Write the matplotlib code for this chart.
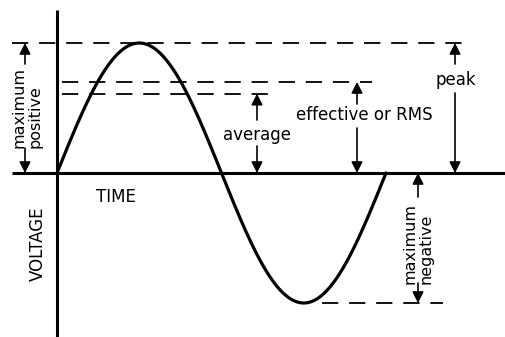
import numpy as np
import matplotlib
matplotlib.use("Agg")
import matplotlib.pyplot as plt

# ---- data (voltage in units of the peak value, time in degrees) ----
cycle_deg = [0, 360]
amplitude = 1.0
peak_level = 1.0
rms_level = 0.70
average_level = 0.61
negative_level = -1.0
labels_peak = "peak"
labels_rms = "effective or RMS"
labels_avg = "average"
labels_pos = "maximum\npositive"
labels_neg = "maximum\nnegative"
label_time = "TIME"
label_volt = "VOLTAGE"

t = np.linspace(cycle_deg[0], cycle_deg[1], 721)
v = amplitude * np.sin(np.radians(t))

# ---- layout: pixel -> data helpers ----
W, H = 505, 337
X0, Y0 = 57, 173          # origin pixel
SX = 329 / 360            # px per degree
SY = 130                  # px per volt unit


def px(p):
    return (p - X0) / SX


def py(p):
    return (Y0 - p) / SY


fig = plt.figure(figsize=(W / 100, H / 100), dpi=100)
ax = fig.add_axes([0, 0, 1, 1])
ax.set_xlim(px(0), px(W))
ax.set_ylim(py(H), py(0))
ax.axis("off")

k = "black"
# axes
ax.plot([px(12), px(W)], [0, 0], color=k, lw=2.2, solid_capstyle="butt")
ax.plot([0, 0], [py(H), py(10)], color=k, lw=2.2, solid_capstyle="butt")

# sine wave
ax.plot(t, v, color=k, lw=2.3, solid_capstyle="round")

# dashed reference lines
dash = (0, (9.0, 6.0))
dlw = 1.3
ax.plot([px(12), px(467)], [peak_level, peak_level], color=k, lw=dlw, ls=dash)
ax.plot([px(62), px(372)], [rms_level, rms_level], color=k, lw=dlw, ls=dash)
ax.plot([px(62), px(272)], [average_level, average_level], color=k, lw=dlw, ls=dash)
ax.plot([px(322), px(443)], [negative_level, negative_level], color=k, lw=dlw, ls=dash)


def arrow(xp, y_from, y_to):
    ax.annotate("", xy=(px(xp), y_to), xytext=(px(xp), y_from),
                arrowprops=dict(arrowstyle="-|>,head_length=0.55,head_width=0.28",
                                color=k, lw=1.2, mutation_scale=12,
                                shrinkA=0, shrinkB=0))


# maximum positive
arrow(25, py(64), peak_level)
arrow(25, py(148), 0)
# average
arrow(257, py(120), average_level)
arrow(257, py(146), 0)
# effective / RMS
arrow(357, py(104), rms_level)
arrow(357, py(128), 0)
# peak
arrow(455, py(64), peak_level)
arrow(455, py(93), 0)
# maximum negative
arrow(418, py(197), 0)
arrow(418, py(283), negative_level)

fs = 12
ax.text(px(456), py(80), labels_peak, fontsize=fs, ha="center", va="center")
ax.text(px(364), py(115), labels_rms, fontsize=fs, ha="center", va="center")
ax.text(px(257), py(135), labels_avg, fontsize=fs, ha="center", va="center")
ax.text(px(116), py(197), label_time, fontsize=fs, ha="center", va="center")
ax.text(px(38), py(244), label_volt, fontsize=fs, ha="center", va="center",
        rotation=90)
ax.text(px(27), py(108), labels_pos, fontsize=11.5, ha="center", va="center",
        rotation=90, multialignment="left", linespacing=1.05)
ax.text(px(418), py(243), labels_neg, fontsize=11.5, ha="center", va="center",
        rotation=90, multialignment="left", linespacing=1.05)

fig.savefig("out.png", dpi=100, facecolor="white")
